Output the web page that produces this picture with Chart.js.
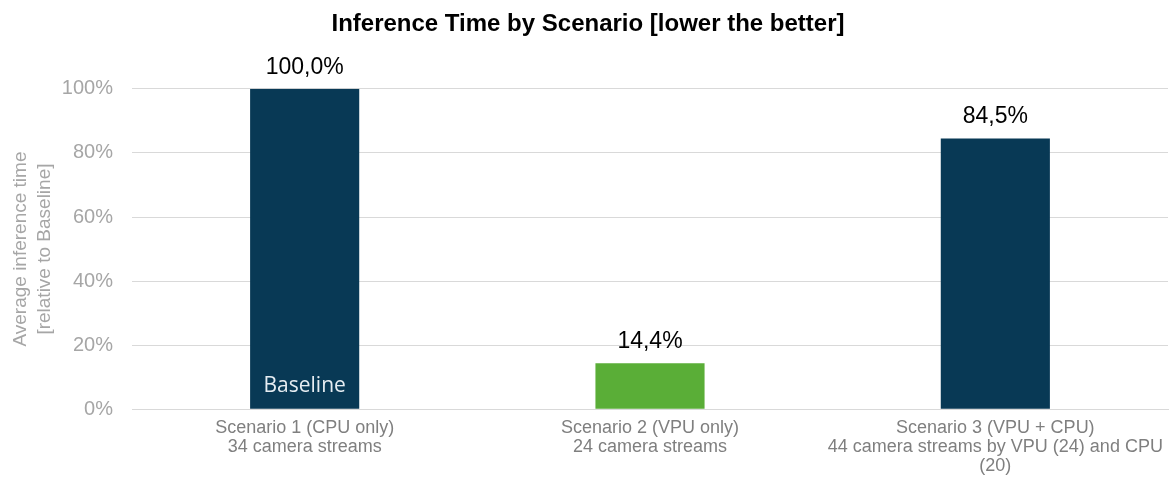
<!DOCTYPE html>
<html>
<head>
<meta charset="utf-8">
<script src="https://cdn.jsdelivr.net/npm/chart.js@4"></script>
<style>
  html, body { margin: 0; padding: 0; background: #fff; }
  #wrap { width: 1172px; height: 481px; }
</style>
</head>
<body>
<div id="wrap"><canvas id="chartInferensi"></canvas></div>
<script>
// data
const scenarios = [
    ["Scenario 1 (CPU only)", "34 camera streams"],
    ["Scenario 2 (VPU only)", "24 camera streams"],
    ["Scenario 3 (VPU + CPU)", "44 camera streams by VPU (24) and CPU", "(20)"]
];
const inferenceTime = [100.0, 14.4, 84.5];
const barColors = ["#083955", "#5aae37", "#083955"];
const yTicks = [0, 20, 40, 60, 80, 100];
const baselineLabel = "Baseline";

// label nilai di atas batang + teks Baseline
const labelPlugin = {
    id: "labelNilai",
    afterDatasetsDraw(chart) {
        const ctx = chart.ctx;
        const meta = chart.getDatasetMeta(0);
        ctx.save();
        ctx.textAlign = "center";
        ctx.textBaseline = "bottom";
        meta.data.forEach((bar, i) => {
            ctx.fillStyle = "#000";
            ctx.font = "23px 'Liberation Sans', Arial, sans-serif";
            ctx.fillText(inferenceTime[i].toFixed(1).replace(".", ",") + "%", bar.x, bar.y - 10);
        });
        const first = meta.data[0];
        ctx.fillStyle = "#e6edf2";
        ctx.font = "21px 'Open Sans', sans-serif";
        ctx.textBaseline = "alphabetic";
        ctx.fillText(baselineLabel, first.x, chart.scales.y.getPixelForValue(0) - 17);
        ctx.restore();
    }
};

const ctxInferensi = document.getElementById("chartInferensi");
new Chart(ctxInferensi, {
    type: "bar",
    data: {
        labels: scenarios,
        datasets: [{
            data: inferenceTime,
            backgroundColor: barColors,
            categoryPercentage: 1,
            barPercentage: 0.316
        }]
    },
    options: {
        responsive: true,
        maintainAspectRatio: false,
        animation: false,
        layout: { padding: { left: 8, right: 4, top: 0, bottom: 5 } },
        plugins: {
            legend: { display: false },
            tooltip: { enabled: false },
            title: {
                display: true,
                text: "Inference Time by Scenario [lower the better]",
                color: "#000",
                font: { family: "'Liberation Sans', Arial, sans-serif", size: 24, weight: "bold" },
                padding: { top: 10, bottom: 50 }
            }
        },
        scales: {
            x: {
                grid: { display: false },
                border: { color: "#d9d9d9" },
                ticks: {
                    color: "#7f7f7f",
                    font: { family: "'Liberation Sans', Arial, sans-serif", size: 18, lineHeight: 1.05 },
                    maxRotation: 0,
                    autoSkip: false,
                    padding: 1
                }
            },
            y: {
                min: 0,
                max: 100,
                afterBuildTicks: axis => { axis.ticks = yTicks.map(v => ({ value: v })); },
                afterFit: axis => { axis.width = 124; },
                grid: { color: "#d9d9d9", drawTicks: false },
                border: { display: false },
                ticks: {
                    color: "#a6a6a6",
                    font: { family: "'Liberation Sans', Arial, sans-serif", size: 20 },
                    padding: 19,
                    callback: v => v + "%"
                },
                title: {
                    display: true,
                    text: ["Average inference time", "[relative to Baseline]"],
                    color: "#a6a6a6",
                    font: { family: "'Liberation Sans', Arial, sans-serif", size: 19, lineHeight: 1.3 },
                    padding: { top: 0, bottom: 8 }
                }
            }
        }
    },
    plugins: [labelPlugin]
});
</script>
</body>
</html>
